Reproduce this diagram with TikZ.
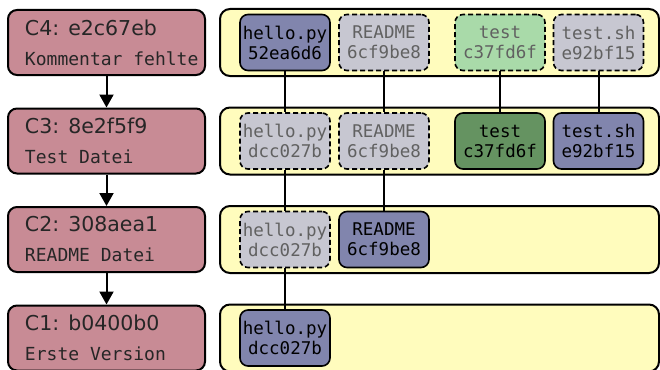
\documentclass[tikz,border=0pt]{standalone}
\usepackage{fontspec}
\setmainfont{DejaVu Sans}
\newfontfamily\codefont{DejaVu Sans Mono}
\usepackage{tikz}
\usetikzlibrary{arrows.meta}

\definecolor{commitred}{HTML}{C88B95}
\definecolor{treeyellow}{HTML}{FFFCBD}
\definecolor{blobblue}{HTML}{8185AD}
\definecolor{blobgrey}{HTML}{C7C7D1}
\definecolor{testlight}{HTML}{A9DAA9}
\definecolor{testdark}{HTML}{659361}

% commit id on top, message below in mono (align=left shrinks \spaceskip, so reset it)
\newcommand{\commitlabel}[2]{\hspace*{12.5pt}{\fontsize{20.5}{24}\selectfont #1}\\[6pt]%
  \hspace*{12.5pt}{\codefont\spaceskip=0.602em\relax #2}}

\begin{document}
\begin{tikzpicture}[x=1pt, y=-1pt, node distance = 98.5pt,
  commit/.style={draw, line width=2pt, fill=commitred, rounded corners=9pt,
    minimum width=197pt, minimum height=65pt, text width=188pt, inner xsep=4.5pt,
    align=left, text=black!85, font=\fontsize{18}{24}\selectfont},
  tree/.style={draw, line width=2pt, fill=treeyellow, rounded corners=10pt,
    minimum width=439pt, minimum height=67pt},
  blob/.style={draw, line width=1.6pt, rounded corners=8pt, minimum width=90pt,
    minimum height=56pt, inner sep=0pt, align=center,
    font=\codefont\fontsize{17.5}{20}\selectfont},
  newblob/.style={blob, fill=blobblue},
  oldblob/.style={blob, fill=blobgrey, dash pattern=on 5pt off 3pt, text=black!62},
  wire/.style={line width=2pt},
  parent/.style={line width=2pt, -{Triangle[width=14pt,length=13pt]}}]
\useasboundingbox (0,0) rectangle (660,369);

% commits
\node[commit] (c4) at (106.5,42.5) {\commitlabel{C4: e2c67eb}{Kommentar fehlte}};
\node[commit] (c3) [below of = c4] {\commitlabel{C3: 8e2f5f9}{Test Datei}};
\node[commit] (c2) [below of = c3] {\commitlabel{C2: 308aea1}{README Datei}};
\node[commit] (c1) [below of = c2] {\commitlabel{C1: b0400b0}{Erste Version}};

\path[parent] (c4) edge (c3)
              (c3) edge (c2)
              (c2) edge (c1);

% trees
\node[tree] (t4) [right of = c4, node distance = 333pt] {};
\node[tree] (t3) [below of = t4] {};
\node[tree] (t2) [below of = t3] {};
\node[tree] (t1) [below of = t2] {};

% blobs
\node[newblob] (hello4) [right of = c4, node distance = 178.5pt] {hello.py\\52ea6d6};
\node[oldblob] (readme4) [right of = hello4, node distance = 99pt] {README\\6cf9be8};
\node[oldblob, fill=testlight] (test4) [right of = readme4, node distance = 116pt] {test\\c37fd6f};
\node[oldblob] (testsh4) [right of = test4] {test.sh\\e92bf15};

\node[oldblob] (hello3) [below of = hello4] {hello.py\\dcc027b};
\node[oldblob] (readme3) [below of = readme4] {README\\6cf9be8};
\node[blob, fill=testdark] (test3) [below of = test4] {test\\c37fd6f};
\node[newblob] (testsh3) [below of = testsh4] {test.sh\\e92bf15};

\node[oldblob] (hello2) [below of = hello3] {hello.py\\dcc027b};
\node[newblob] (readme2) [below of = readme3] {README\\6cf9be8};

\node[newblob] (hello1) [below of = hello2] {hello.py\\dcc027b};

\path[wire] (hello4) edge (hello3)
            (hello3) edge (hello2)
            (hello2) edge (hello1)
            (readme4) edge (readme3)
            (readme3) edge (readme2)
            (test4) edge (test3)
            (testsh4) edge (testsh3);
\end{tikzpicture}
\end{document}
